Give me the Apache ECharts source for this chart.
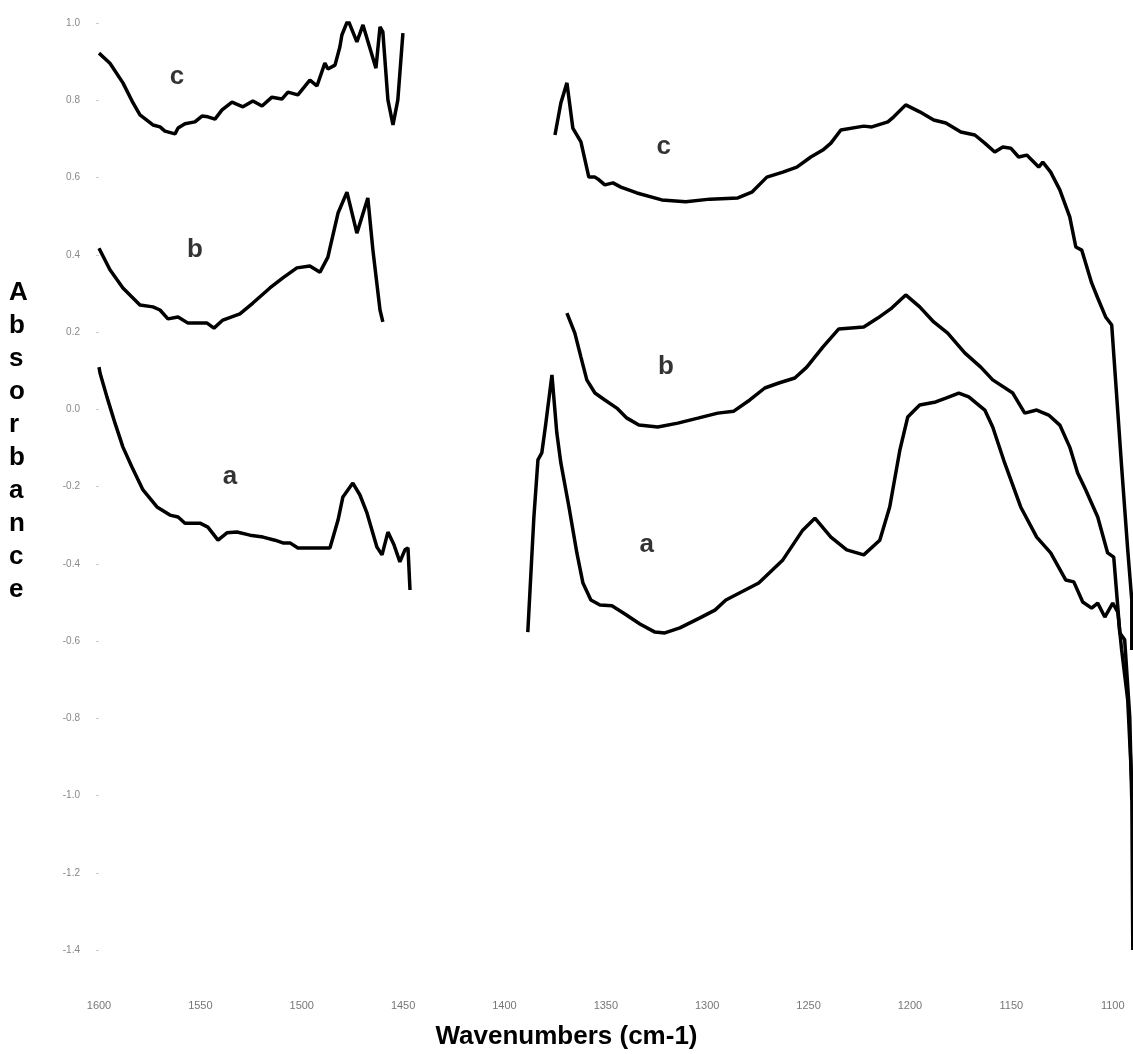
<!DOCTYPE html>
<html>
<head>
<meta charset="utf-8">
<script src="https://cdn.jsdelivr.net/npm/echarts@6/dist/echarts.min.js"></script>
<style>
html,body{margin:0;padding:0;background:#fff;}
#chart{width:1133px;height:1054px;}
</style>
</head>
<body>
<div id="chart"></div>
<script>
// spectra: [wavenumber, absorbance]
var leftC = [[1600,0.922],[1594.6,0.896],[1588.2,0.845],[1583.2,0.793],[1579.8,0.762],[1573.4,0.736],[1569.9,0.731],[1567.5,0.720],[1562.5,0.713],[1561,0.728],[1557.6,0.739],[1552.7,0.744],[1549.2,0.759],[1546.3,0.757],[1542.8,0.751],[1539.3,0.775],[1534.4,0.795],[1529,0.783],[1524.1,0.798],[1519.6,0.785],[1514.7,0.808],[1509.8,0.803],[1506.8,0.821],[1501.9,0.814],[1496,0.852],[1492.5,0.837],[1488.6,0.896],[1487.1,0.881],[1483.6,0.891],[1481.2,0.938],[1480.2,0.969],[1477.2,1.008],[1472.8,0.951],[1469.8,0.995],[1463.4,0.883],[1461.4,0.990],[1460,0.977],[1457.5,0.801],[1455,0.736],[1452.6,0.801],[1450.1,0.974]];
var leftB = [[1600,0.417],[1594.6,0.361],[1588.2,0.314],[1579.8,0.270],[1573.4,0.265],[1569.9,0.257],[1566,0.234],[1561,0.239],[1556.1,0.223],[1546.7,0.223],[1543.3,0.210],[1538.9,0.231],[1530.5,0.247],[1524.1,0.275],[1515.7,0.314],[1509.3,0.340],[1502.4,0.366],[1496,0.371],[1491,0.355],[1487.1,0.394],[1486.1,0.417],[1482.1,0.508],[1477.7,0.562],[1472.8,0.456],[1467.4,0.547],[1464.9,0.412],[1461.4,0.257],[1460,0.226]];
var leftA = [[1600,0.109],[1599.5,0.094],[1596.1,0.032],[1592.1,-0.036],[1588.2,-0.098],[1583.7,-0.150],[1578.3,-0.209],[1571.4,-0.253],[1565,-0.274],[1561,-0.279],[1557.6,-0.295],[1550.2,-0.295],[1546.3,-0.305],[1541.3,-0.339],[1536.9,-0.320],[1532,-0.318],[1525.5,-0.326],[1519.1,-0.331],[1513.2,-0.339],[1509.3,-0.346],[1505.8,-0.346],[1501.9,-0.359],[1493.5,-0.359],[1486.1,-0.359],[1482.1,-0.287],[1479.7,-0.227],[1474.8,-0.191],[1471.3,-0.222],[1467.8,-0.269],[1462.9,-0.357],[1460.4,-0.377],[1457.5,-0.318],[1454.5,-0.351],[1451.6,-0.395],[1449.1,-0.364],[1447.6,-0.359],[1446.6,-0.468]];
var rightC = [[1375.1,0.710],[1372.2,0.793],[1369.2,0.845],[1366.3,0.728],[1362.3,0.692],[1358.4,0.601],[1355.4,0.601],[1353.4,0.594],[1350.5,0.581],[1346.5,0.586],[1342.6,0.575],[1334.7,0.560],[1322.4,0.542],[1310.6,0.537],[1298.7,0.544],[1284.9,0.547],[1278,0.562],[1270.6,0.601],[1262.7,0.614],[1255.8,0.627],[1248.9,0.653],[1243,0.671],[1239,0.689],[1234.1,0.723],[1222.8,0.733],[1218.8,0.731],[1210.9,0.744],[1208,0.757],[1202.1,0.788],[1195.2,0.770],[1188.3,0.749],[1182.3,0.741],[1174.9,0.718],[1168,0.710],[1163.1,0.689],[1158.2,0.666],[1154.2,0.679],[1150.3,0.676],[1146.4,0.653],[1142.4,0.658],[1136.5,0.627],[1134.5,0.640],[1130.6,0.614],[1126.1,0.568],[1121.2,0.498],[1118.2,0.420],[1115.3,0.412],[1110.4,0.327],[1107.4,0.288],[1103.5,0.239],[1100.5,0.218],[1098.5,0.068],[1095.6,-0.150],[1092.6,-0.364],[1090.6,-0.494],[1090.6,-0.623]];
var rightB = [[1369.2,0.249],[1365.3,0.197],[1362.3,0.135],[1359.4,0.076],[1355.4,0.042],[1350.5,0.024],[1344.6,0.003],[1339.6,-0.023],[1333.7,-0.041],[1324.4,-0.046],[1314.5,-0.036],[1304.6,-0.023],[1294.8,-0.010],[1286.9,-0.005],[1279,0.024],[1271.6,0.055],[1264.7,0.068],[1256.8,0.081],[1250.9,0.109],[1243,0.161],[1235.1,0.208],[1222.8,0.213],[1215.9,0.236],[1209,0.262],[1202.1,0.296],[1195.2,0.265],[1188.3,0.226],[1181.4,0.197],[1173,0.146],[1165.1,0.109],[1159.2,0.076],[1149.3,0.042],[1143.4,-0.010],[1137.5,-0.002],[1131.6,-0.015],[1126.1,-0.041],[1121.2,-0.098],[1117.3,-0.165],[1113.3,-0.209],[1107.4,-0.279],[1102.5,-0.372],[1099.5,-0.383],[1097.5,-0.512],[1096.5,-0.579],[1094.1,-0.597],[1091.6,-0.797],[1090.6,-1.012]];
var rightA = [[1388.5,-0.577],[1385.5,-0.279],[1383.5,-0.131],[1381.6,-0.113],[1379.6,-0.036],[1376.6,0.089],[1374.2,-0.061],[1372.2,-0.139],[1368.2,-0.253],[1364.3,-0.372],[1361.3,-0.450],[1357.4,-0.494],[1352.9,-0.507],[1347,-0.509],[1340.6,-0.530],[1333.2,-0.556],[1325.8,-0.577],[1320.9,-0.579],[1313.5,-0.566],[1303.6,-0.540],[1296.2,-0.520],[1290.8,-0.494],[1274.6,-0.450],[1262.7,-0.390],[1252.9,-0.313],[1246.9,-0.282],[1239,-0.331],[1231.2,-0.364],[1222.8,-0.377],[1214.9,-0.339],[1210,-0.253],[1205,-0.106],[1201.1,-0.020],[1195.2,0.011],[1187.3,0.019],[1182.3,0.029],[1175.9,0.042],[1171,0.032],[1163.1,-0.002],[1159.2,-0.046],[1153.3,-0.139],[1145.4,-0.253],[1137.5,-0.331],[1130.6,-0.372],[1123.2,-0.442],[1119.2,-0.447],[1114.8,-0.499],[1110.4,-0.515],[1107.4,-0.502],[1103.9,-0.538],[1100,-0.502],[1097.5,-0.525],[1095.6,-0.623],[1092.6,-0.753],[1090.6,-0.968],[1090.1,-1.40]];

var xTicks = [1600, 1550, 1500, 1450, 1400, 1350, 1300, 1250, 1200, 1150, 1100];
// curve letters: [text, wavenumber, absorbance]
var curveLabels = [['c', 1561.5, 0.86], ['b', 1552.7, 0.412], ['a', 1535.4, -0.175],
                   ['c', 1321.4, 0.679], ['b', 1320.4, 0.11], ['a', 1329.8, -0.35]];

var chart = echarts.init(document.getElementById('chart'));

function curve(name, data) {
    return {
        name: name,
        type: 'line',
        data: data,
        symbol: 'none',
        silent: true,
        lineStyle: {color: '#000', width: 3.5},
        z: 2
    };
}

var series = [
    curve('a left', leftA), curve('b left', leftB), curve('c left', leftC),
    curve('a right', rightA), curve('b right', rightB), curve('c right', rightC),
    {
        type: 'scatter',
        symbolSize: 0,
        silent: true,
        z: 5,
        data: curveLabels.map(function (l) { return {name: l[0], value: [l[1], l[2]]}; }),
        label: {
            show: true,
            position: 'inside',
            formatter: '{b}',
            color: '#000',
            fontSize: 26,
            fontWeight: 'bold',
            fontFamily: 'Liberation Sans, Arial, sans-serif'
        }
    }
];

chart.setOption({
    animation: false,
    backgroundColor: '#fff',
    grid: {left: 99, right: 0, top: 23, bottom: 104},
    xAxis: {
        type: 'value',
        inverse: true,
        min: 1090,
        max: 1600,
        axisLine: {show: false},
        axisTick: {show: false},
        splitLine: {show: false},
        axisLabel: {
            customValues: xTicks,
            margin: 50,
            color: '#777',
            fontSize: 11,
            fontFamily: 'Liberation Sans, Arial, sans-serif',
            formatter: function (v) { return String(v); }
        }
    },
    yAxis: {
        type: 'value',
        min: -1.4,
        max: 1.0,
        interval: 0.2,
        axisLine: {show: false},
        axisTick: {show: true, length: 3, lineStyle: {color: '#ccc'}},
        splitLine: {show: false},
        axisLabel: {
            margin: 19,
            color: '#888',
            fontSize: 10,
            fontFamily: 'Liberation Sans, Arial, sans-serif',
            formatter: function (v) { return v.toFixed(1); }
        }
    },
    graphic: [
        {
            type: 'text',
            left: 9,
            top: 276,
            style: {
                text: 'Absorbance'.split('').join('\n'),
                font: 'bold 26px "Liberation Sans", Arial, sans-serif',
                lineHeight: 33,
                fill: '#000',
                align: 'center'
            }
        },
        {
            type: 'text',
            left: 'center',
            top: 1024,
            style: {
                text: 'Wavenumbers (cm-1)',
                font: 'bold 26px "Liberation Sans", Arial, sans-serif',
                fill: '#000'
            }
        }
    ],
    series: series
});
</script>
</body>
</html>
